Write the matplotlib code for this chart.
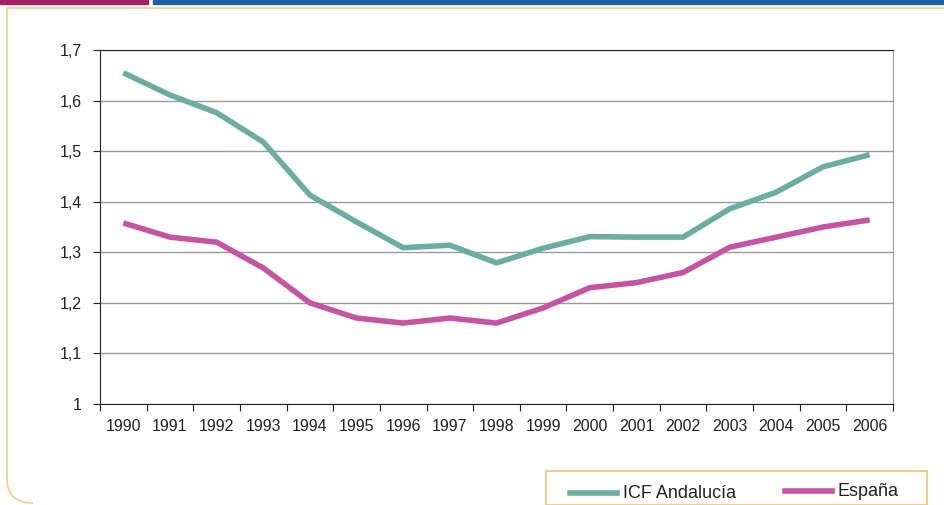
import numpy as np
import matplotlib
matplotlib.use("Agg")
import matplotlib.pyplot as plt
from matplotlib.patches import Rectangle, PathPatch
from matplotlib.path import Path
from matplotlib.lines import Line2D

plt.rcParams['font.family'] = ['Liberation Sans', 'DejaVu Sans']

# data
years = ['1990', '1991', '1992', '1993', '1994', '1995', '1996', '1997', '1998',
         '1999', '2000', '2001', '2002', '2003', '2004', '2005', '2006']
andalucia = [1.655, 1.611, 1.576, 1.518, 1.413, 1.36, 1.309, 1.314, 1.279,
             1.308, 1.331, 1.33, 1.33, 1.386, 1.419, 1.469, 1.493]
espana = [1.358, 1.33, 1.32, 1.269, 1.2, 1.17, 1.16, 1.17, 1.16,
          1.19, 1.23, 1.24, 1.26, 1.31, 1.33, 1.35, 1.364]
y_ticks = [1.0, 1.1, 1.2, 1.3, 1.4, 1.5, 1.6, 1.7]

teal = '#6aae9f'
magenta = '#c555a2'
W, H = 945, 505

fig = plt.figure(figsize=(W / 100, H / 100), dpi=100)
ax = fig.add_axes([100 / W, 1 - 404 / H, 793 / W, 354 / H])

# 1. page decorations (top bars, orange rounded frame)
fig.patches.append(Rectangle((0, 1 - 4 / H), 148 / W, 4 / H, transform=fig.transFigure,
                             color='#a51f63', zorder=0))
fig.patches.append(Rectangle((153 / W, 1 - 4 / H), 1 - 153 / W, 4 / H, transform=fig.transFigure,
                             color='#1763a3', zorder=0))
r = 26
verts = [(W, 8), (7, 8), (7, H - r), (7, H - 2), (7 + r, H - 2)]
codes = [Path.MOVETO, Path.LINETO, Path.LINETO, Path.CURVE3, Path.CURVE3]
verts = [(x / W, 1 - y / H) for x, y in verts]
fig.patches.append(PathPatch(Path(verts, codes), transform=fig.transFigure,
                             fill=False, edgecolor='#f6cd82', lw=1.2))

# 2. lines
x = np.arange(len(years))
ax.plot(x, andalucia, color=teal, lw=4, solid_capstyle='butt')
ax.plot(x, espana, color=magenta, lw=4, solid_capstyle='butt')

# 3. axes styling
ax.set_xlim(-0.5, len(years) - 0.5)
ax.set_ylim(1, 1.7)
ax.set_yticks(y_ticks)
ax.set_yticklabels([f'{v:.1f}'.replace('.', ',').replace('1,0', '1') for v in y_ticks],
                   fontsize=11.5, color='#222222')
ax.yaxis.grid(True, color='#9a9a9a', lw=1)
ax.set_axisbelow(True)

ax.set_xticks(np.arange(len(years) + 1) - 0.5)
ax.set_xticklabels([])
ax.set_xticks(x, minor=True)
ax.set_xticklabels(years, minor=True, fontsize=11.5, color='#222222')
ax.tick_params(axis='x', which='minor', length=0, pad=11)
ax.tick_params(axis='x', which='major', length=5, direction='out', color='#222222')
ax.tick_params(axis='y', length=5, direction='out', color='#222222', pad=8)

for side in ['left', 'bottom', 'top']:
    ax.spines[side].set_color('#222222')
ax.spines['right'].set_color('#9a9a9a')

# 4. legend box at the bottom
fig.patches.append(Rectangle((546 / W, 0), (927 - 546) / W, (H - 471) / H,
                             transform=fig.transFigure, fill=False,
                             edgecolor='#f6c16c', lw=1.2))
fig.add_artist(Line2D([570 / W, 617 / W], [1 - 493 / H] * 2, color=teal, lw=4))
fig.text(623 / W, 1 - 494 / H, 'ICF Andalucía', fontsize=13, va='center', color='#222222')
fig.add_artist(Line2D([785 / W, 832 / W], [1 - 491 / H] * 2, color=magenta, lw=4))
fig.text(838 / W, 1 - 491 / H, 'España', fontsize=13, va='center', color='#222222')

plt.savefig('out.png', dpi=100)
